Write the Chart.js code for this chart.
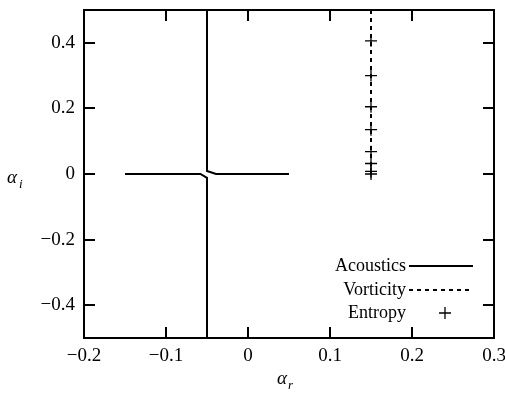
<!DOCTYPE html>
<html>
<head>
<meta charset="utf-8">
<script src="https://cdn.jsdelivr.net/npm/chart.js@4/dist/chart.umd.min.js"></script>
<style>
html,body{margin:0;padding:0;background:#fff;}
#wrap{width:505px;height:393px;position:relative;}
</style>
</head>
<body>
<div id="wrap"><canvas id="c" width="505" height="393"></canvas></div>
<script>
// ---- data ----
const acousticsUpper = [
  {x:-0.05, y:0.5}, {x:-0.05, y:0.009}, {x:-0.039, y:0.0}, {x:0.05, y:0.0}
];
const acousticsLower = [
  {x:-0.15, y:0.0}, {x:-0.058, y:0.0}, {x:-0.05, y:-0.012}, {x:-0.05, y:-0.5}
];
const vorticity = [
  {x:0.15, y:0.5}, {x:0.15, y:0.0}
];
const entropyX = [0.15, 0.15, 0.15, 0.15, 0.15, 0.15, 0.15, 0.15];
const entropyY = [0.406, 0.30, 0.205, 0.135, 0.068, 0.032, 0.008, 0.0];
const xTickValues = [-0.2, -0.1, 0, 0.1, 0.2, 0.3];
const xTickLabels = ["\u22120.2", "\u22120.1", "0", "0.1", "0.2", "0.3"];
const yTickValues = [-0.4, -0.2, 0, 0.2, 0.4];
const yTickLabels = ["\u22120.4", "\u22120.2", "0", "0.2", "0.4"];
const legendLabels = ["Acoustics", "Vorticity", "Entropy"];

const FONT = "'Liberation Serif', 'Times New Roman', serif";

const entropy = entropyX.map((x, i) => ({x: x, y: entropyY[i]}));

function labelFor(values, labels, v) {
  for (let i = 0; i < values.length; i++) if (Math.abs(values[i] - v) < 1e-9) return labels[i];
  return "";
}

const framePlugin = {
  id: 'frame',
  afterDatasetsDraw(chart) {
    const ctx = chart.ctx;
    const a = chart.chartArea;
    const xs = chart.scales.x, ys = chart.scales.y;
    ctx.save();
    ctx.strokeStyle = '#000';
    ctx.lineWidth = 2;
    ctx.lineCap = 'butt';
    const TL = 11;
    ctx.beginPath();
    xTickValues.forEach(v => {
      const px = Math.round(xs.getPixelForValue(v));
      ctx.moveTo(px, a.bottom); ctx.lineTo(px, a.bottom - TL);
      ctx.moveTo(px, a.top); ctx.lineTo(px, a.top + TL);
    });
    yTickValues.forEach(v => {
      const py = Math.round(ys.getPixelForValue(v));
      ctx.moveTo(a.left, py); ctx.lineTo(a.left + TL, py);
      ctx.moveTo(a.right, py); ctx.lineTo(a.right - TL, py);
    });
    ctx.stroke();
    ctx.lineWidth = 2;
    ctx.strokeRect(a.left, a.top, a.right - a.left, a.bottom - a.top);

    // axis titles
    ctx.fillStyle = '#000';
    ctx.textBaseline = 'alphabetic';
    ctx.textAlign = 'left';
    ctx.font = "italic 19px " + FONT;
    ctx.fillText("\u03b1", 7, 183);
    ctx.font = "italic 13px " + FONT;
    ctx.fillText("i", 19, 188);
    ctx.font = "italic 19px " + FONT;
    ctx.fillText("\u03b1", 277, 384);
    ctx.font = "italic 13px " + FONT;
    ctx.fillText("r", 288, 389);

    // legend
    ctx.font = "18px " + FONT;
    ctx.textAlign = 'right';
    ctx.textBaseline = 'middle';
    const rows = [266, 290, 313];
    const lx0 = 409, lx1 = 473;
    const ds = chart.data.datasets;
    const legendDs = [ds[0], ds[2], ds[3]];
    legendDs.forEach((d, i) => {
      const y = rows[i];
      ctx.fillText(legendLabels[i], 406, y);
      if (d.showLine) {
        ctx.save();
        ctx.strokeStyle = d.borderColor;
        ctx.lineWidth = d.borderWidth;
        ctx.setLineDash(d.borderDash || []);
        ctx.beginPath();
        ctx.moveTo(lx0, y); ctx.lineTo(lx1, y);
        ctx.stroke();
        ctx.restore();
      } else {
        const cx = 445, r = d.pointRadius;
        ctx.save();
        ctx.strokeStyle = d.borderColor;
        ctx.lineWidth = 1.3;
        ctx.beginPath();
        ctx.moveTo(cx - r, y); ctx.lineTo(cx + r, y);
        ctx.moveTo(cx, y - r); ctx.lineTo(cx, y + r);
        ctx.stroke();
        ctx.restore();
      }
    });
    ctx.restore();
  }
};

new Chart(document.getElementById('c'), {
  type: 'scatter',
  data: {
    datasets: [
      {label: legendLabels[0], data: acousticsUpper, showLine: true, borderColor: '#000', borderWidth: 2, pointRadius: 0, fill: false, tension: 0},
      {label: legendLabels[0], data: acousticsLower, showLine: true, borderColor: '#000', borderWidth: 2, pointRadius: 0, fill: false, tension: 0},
      {label: legendLabels[1], data: vorticity, showLine: true, borderColor: '#000', borderWidth: 2, borderDash: [4, 4], pointRadius: 0, fill: false},
      {label: legendLabels[2], data: entropy, showLine: false, borderColor: '#000', backgroundColor: '#000', borderWidth: 1.3, pointStyle: 'cross', pointRadius: 6, pointHoverRadius: 6}
    ]
  },
  options: {
    responsive: false,
    animation: false,
    devicePixelRatio: 1,
    layout: {padding: {left: 0, right: 11, top: 10, bottom: 0}},
    plugins: {legend: {display: false}, tooltip: {enabled: false}},
    scales: {
      x: {
        type: 'linear', min: -0.2, max: 0.3,
        grid: {display: false, drawTicks: false},
        border: {display: false},
        afterBuildTicks: s => { s.ticks = xTickValues.map(v => ({value: v})); },
        afterFit: s => { s.height = 55; s.paddingLeft = 0; s.paddingRight = 0; },
        ticks: {
          color: '#000', padding: 7, maxRotation: 0, autoSkip: false,
          font: {family: FONT, size: 19},
          callback: v => labelFor(xTickValues, xTickLabels, v)
        }
      },
      y: {
        type: 'linear', min: -0.5, max: 0.5,
        grid: {display: false, drawTicks: false},
        border: {display: false},
        afterBuildTicks: s => { s.ticks = yTickValues.map(v => ({value: v})); },
        afterFit: s => { s.width = 84; s.paddingTop = 0; s.paddingBottom = 0; },
        ticks: {
          color: '#000', padding: 9, autoSkip: false,
          font: {family: FONT, size: 19},
          callback: v => labelFor(yTickValues, yTickLabels, v)
        }
      }
    }
  },
  plugins: [framePlugin]
});
</script>
</body>
</html>
